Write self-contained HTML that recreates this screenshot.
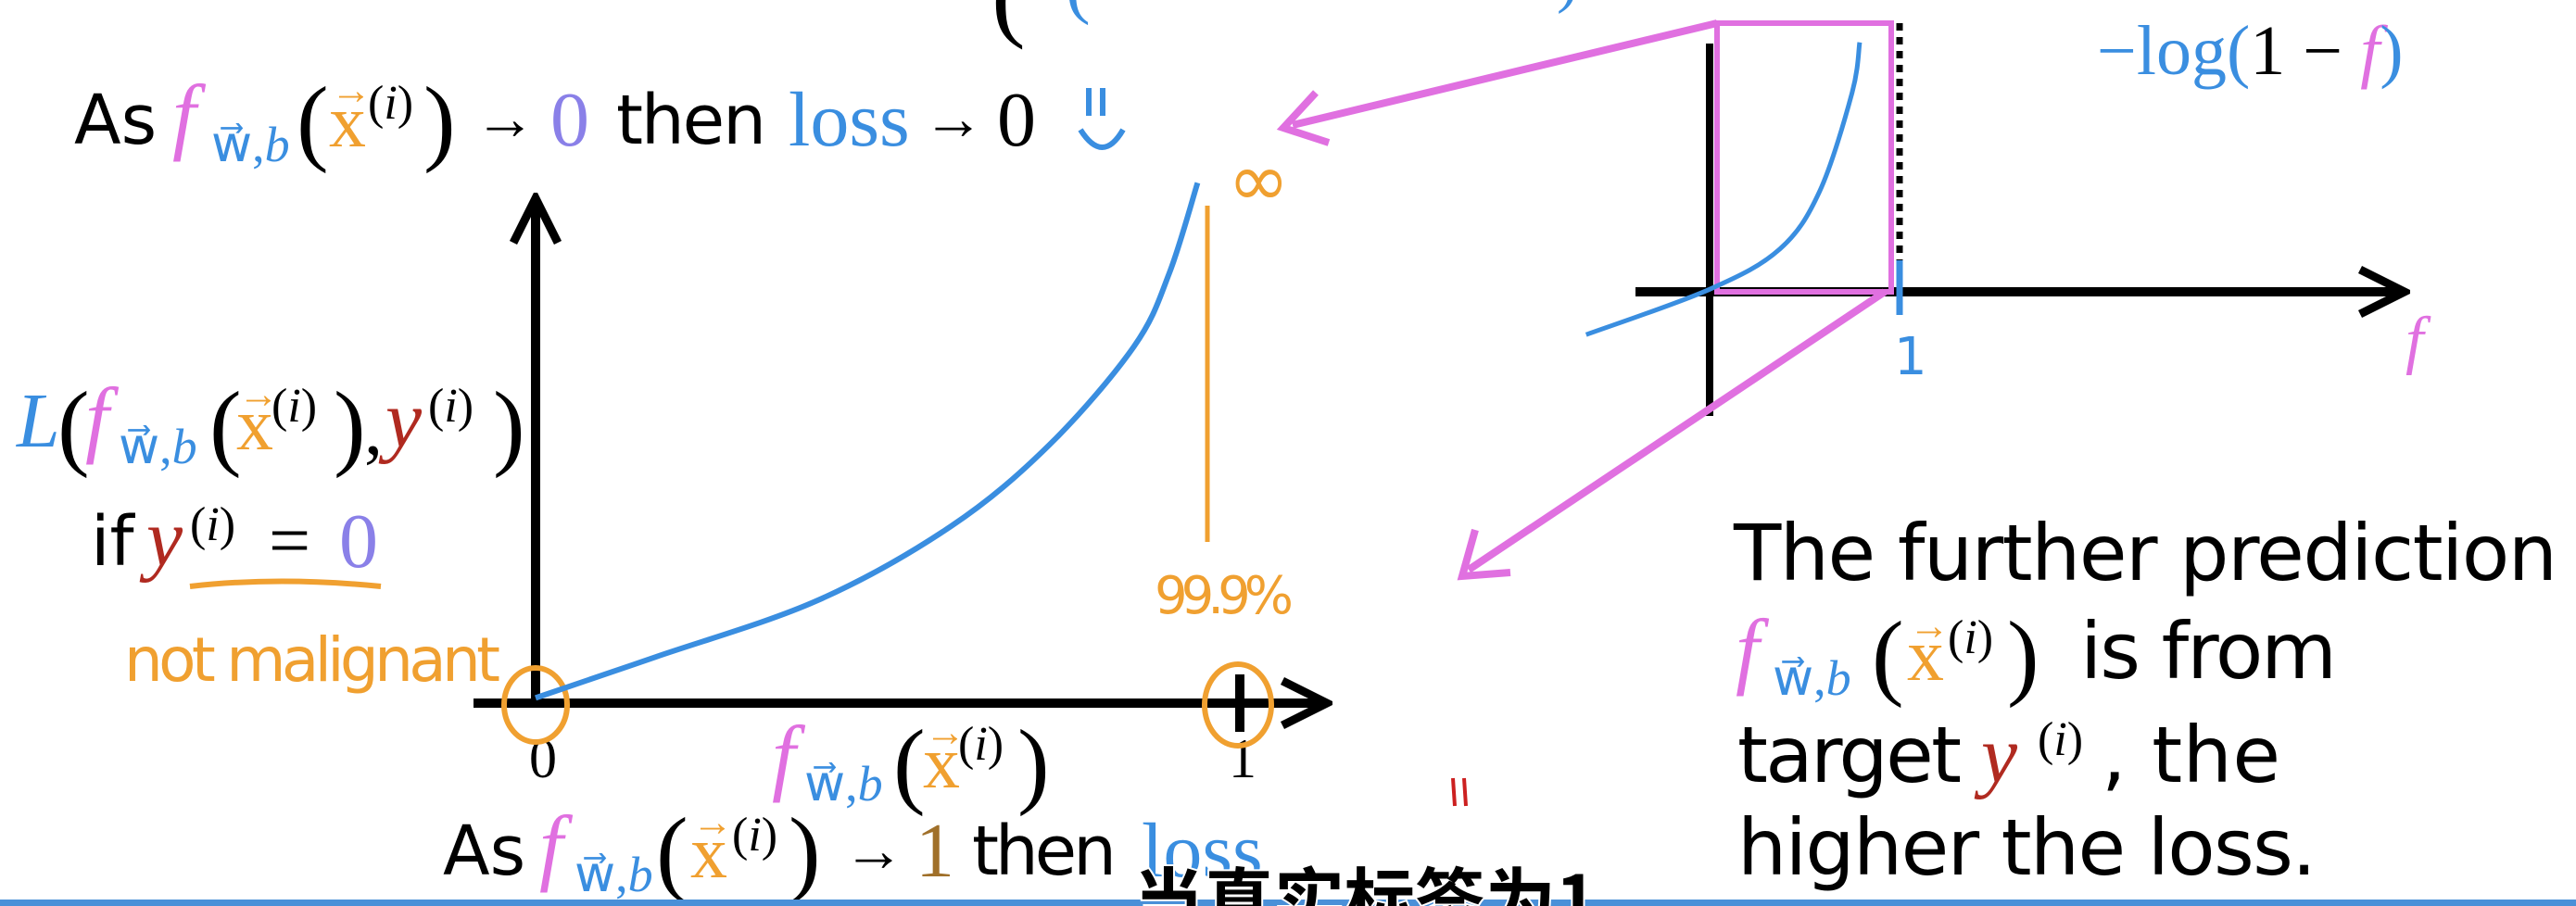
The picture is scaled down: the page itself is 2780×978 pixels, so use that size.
<!DOCTYPE html>
<html><head><meta charset="utf-8"><style>
html,body{margin:0;padding:0;background:#fff;}
svg{display:block;}
.sans{font-family:"DejaVu Sans","Liberation Sans",sans-serif;}
.ser{font-family:"Liberation Serif","DejaVu Serif",serif;}
</style></head><body>
<svg id="chart" width="2780" height="978" viewBox="0 0 2780 978" xmlns="http://www.w3.org/2000/svg">
<defs>
<marker id="ah" viewBox="0 0 20 20" refX="18" refY="10" markerWidth="6" markerHeight="6" orient="auto"><path d="M2,2 L18,10 L2,18" fill="none" stroke="#000" stroke-width="3"/></marker>
</defs>

<g>
<text x="1070" y="30" class="ser" font-size="110" fill="#000">(</text>
<text x="1150" y="10" class="ser" font-size="80" fill="#3a8ee0">(</text>
<text x="1680" y="0" class="ser" font-size="70" fill="#3a8ee0">)</text>
</g>

<g>
<text x="80" y="155" class="sans" font-size="74" fill="#000">As</text>
<text x="186" y="155" class="ser" font-style="italic" font-size="92" fill="#e070e0">f</text>
<text x="228" y="174" class="ser" font-size="54" fill="#3a8ee0">w⃗,<tspan font-style="italic">b</tspan></text>
<text x="320" y="165" class="ser" font-size="104" fill="#000">(</text>
<text x="355" y="158" class="ser" font-size="80" fill="#f0a030">x</text>
<text x="357" y="112" class="ser" font-size="44" fill="#f0a030">→</text>
<text x="397" y="128" class="ser" font-size="52" fill="#000">(<tspan font-style="italic">i</tspan>)</text>
<text x="457" y="165" class="ser" font-size="104" fill="#000">)</text>
<text x="512" y="150" class="ser" font-size="66" fill="#000">→</text>
<text x="594" y="157" class="ser" font-size="84" fill="#8a80e8">0</text>
<text x="665" y="155" class="sans" font-size="74" fill="#000" textLength="162">then</text>
<text x="851" y="157" class="ser" font-size="84" fill="#3a8ee0">loss</text>
<text x="996" y="150" class="ser" font-size="66" fill="#000">→</text>
<text x="1076" y="157" class="ser" font-size="84" fill="#000">0</text>
<path d="M1175,95 L1175,125 M1190,95 L1190,125 M1166,140 Q1190,178 1212,140" fill="none" stroke="#3a8ee0" stroke-width="6"/>
</g>

<line x1="578" y1="759" x2="578" y2="214" stroke="#000" stroke-width="10" marker-end="url(#ah)"/>
<line x1="511" y1="759" x2="1432" y2="759" stroke="#000" stroke-width="10" marker-end="url(#ah)"/>
<line x1="1338" y1="728" x2="1338" y2="790" stroke="#000" stroke-width="10"/>
<text x="571" y="839" class="ser" font-size="60" fill="#000">0</text>
<text x="1326" y="839" class="ser" font-size="60" fill="#000">1</text>
<ellipse cx="578" cy="761" rx="34" ry="40" fill="none" stroke="#f0a030" stroke-width="6"/>
<ellipse cx="1336" cy="761" rx="36" ry="44" fill="none" stroke="#f0a030" stroke-width="6"/>
<line x1="1303" y1="222" x2="1303" y2="585" stroke="#f0a030" stroke-width="5"/>
<text x="1325" y="222" class="sans" font-size="80" fill="#f0a030">∞</text>
<text x="1246" y="662" class="sans" font-size="56" fill="#f0a030" textLength="150">99.9%</text>

<g>
<text x="18" y="482" class="ser" font-style="italic" font-size="84" fill="#3a8ee0">L</text>
<text x="62" y="494" class="ser" font-size="104" fill="#000">(</text>
<text x="92" y="482" class="ser" font-style="italic" font-size="92" fill="#e070e0">f</text>
<text x="128" y="500" class="ser" font-size="54" fill="#3a8ee0">w⃗,<tspan font-style="italic">b</tspan></text>
<text x="226" y="494" class="ser" font-size="104" fill="#000">(</text>
<text x="255" y="485" class="ser" font-size="80" fill="#f0a030">x</text>
<text x="257" y="440" class="ser" font-size="44" fill="#f0a030">→</text>
<text x="293" y="455" class="ser" font-size="52" fill="#000">(<tspan font-style="italic">i</tspan>)</text>
<text x="360" y="494" class="ser" font-size="104" fill="#000">)</text>
<text x="393" y="490" class="ser" font-size="80" fill="#000">,</text>
<text x="416" y="482" class="ser" font-style="italic" font-size="88" fill="#b02a20">y</text>
<text x="462" y="455" class="ser" font-size="52" fill="#000">(<tspan font-style="italic">i</tspan>)</text>
<text x="532" y="494" class="ser" font-size="104" fill="#000">)</text>
</g>
<g>
<text x="98" y="610" class="sans" font-size="74" fill="#000">if</text>
<text x="158" y="610" class="ser" font-style="italic" font-size="88" fill="#b02a20">y</text>
<text x="205" y="583" class="ser" font-size="52" fill="#000">(<tspan font-style="italic">i</tspan>)</text>
<text x="290" y="610" class="ser" font-size="80" fill="#000">=</text>
<text x="366" y="612" class="ser" font-size="84" fill="#8a80e8">0</text>
<path d="M205,633 Q300,622 411,633" fill="none" stroke="#f0a030" stroke-width="6"/>
</g>
<text x="134" y="735" class="sans" font-size="66" fill="#f0a030" textLength="406">not malignant</text>

<g>
<text x="833" y="847" class="ser" font-style="italic" font-size="92" fill="#e070e0">f</text>
<text x="868" y="864" class="ser" font-size="54" fill="#3a8ee0">w⃗,<tspan font-style="italic">b</tspan></text>
<text x="964" y="859" class="ser" font-size="104" fill="#000">(</text>
<text x="996" y="850" class="ser" font-size="80" fill="#f0a030">x</text>
<text x="998" y="805" class="ser" font-size="44" fill="#f0a030">→</text>
<text x="1034" y="820" class="ser" font-size="52" fill="#000">(<tspan font-style="italic">i</tspan>)</text>
<text x="1098" y="859" class="ser" font-size="104" fill="#000">)</text>
</g>

<g>
<text x="478" y="944" class="sans" font-size="74" fill="#000">As</text>
<text x="582" y="944" class="ser" font-style="italic" font-size="92" fill="#e070e0">f</text>
<text x="620" y="962" class="ser" font-size="54" fill="#3a8ee0">w⃗,<tspan font-style="italic">b</tspan></text>
<text x="708" y="954" class="ser" font-size="104" fill="#000">(</text>
<text x="745" y="947" class="ser" font-size="80" fill="#f0a030">x</text>
<text x="747" y="902" class="ser" font-size="44" fill="#f0a030">→</text>
<text x="790" y="918" class="ser" font-size="52" fill="#000">(<tspan font-style="italic">i</tspan>)</text>
<text x="851" y="954" class="ser" font-size="104" fill="#000">)</text>
<text x="910" y="940" class="ser" font-size="66" fill="#000">→</text>
<text x="988" y="946" class="ser" font-size="84" fill="#a0702a">1</text>
<text x="1049" y="944" class="sans" font-size="74" fill="#000" textLength="156">then</text>
<text x="1232" y="946" class="ser" font-size="84" fill="#3a8ee0">loss</text>
<path d="M1568,840 L1570,870 M1580,840 L1582,870" stroke="#cc2020" stroke-width="4"/>
</g>

<line x1="1765" y1="315" x2="2595" y2="315" stroke="#000" stroke-width="10" marker-end="url(#ah)"/>
<line x1="1845" y1="47" x2="1845" y2="449" stroke="#000" stroke-width="8"/>
<line x1="2050" y1="25" x2="2050" y2="315" stroke="#000" stroke-width="7" stroke-dasharray="8,7"/>
<rect x="1853" y="25" width="188" height="290" fill="none" stroke="#e070e0" stroke-width="6"/>
<line x1="2050" y1="281" x2="2050" y2="340" stroke="#3a8ee0" stroke-width="7"/>
<text x="2044" y="404" class="sans" font-size="56" fill="#3a8ee0">1</text>
<text x="2596" y="390" class="ser" font-style="italic" font-size="70" fill="#e070e0">f</text>
<text x="2263" y="80" class="ser" font-size="76" fill="#3a8ee0">−log(<tspan fill="#000">1 − </tspan><tspan fill="#e070e0" font-style="italic">f</tspan>)</text>
<line x1="1853" y1="25" x2="1395" y2="135" stroke="#e070e0" stroke-width="8"/>
<path d="M1420,100 L1385,138 L1434,154" fill="none" stroke="#e070e0" stroke-width="8"/>
<line x1="2034" y1="315" x2="1585" y2="615" stroke="#e070e0" stroke-width="8"/>
<path d="M1592,572 L1578,622 L1630,618" fill="none" stroke="#e070e0" stroke-width="8"/>

<g>
<text x="1871" y="626" class="sans" font-size="84" fill="#000" textLength="889">The further prediction</text>
<text x="1873" y="732" class="ser" font-style="italic" font-size="92" fill="#e070e0">f</text>
<text x="1913" y="750" class="ser" font-size="54" fill="#3a8ee0">w⃗,<tspan font-style="italic">b</tspan></text>
<text x="2020" y="742" class="ser" font-size="104" fill="#000">(</text>
<text x="2058" y="734" class="ser" font-size="80" fill="#f0a030">x</text>
<text x="2060" y="690" class="ser" font-size="44" fill="#f0a030">→</text>
<text x="2102" y="705" class="ser" font-size="52" fill="#000">(<tspan font-style="italic">i</tspan>)</text>
<text x="2166" y="742" class="ser" font-size="104" fill="#000">)</text>
<text x="2245" y="732" class="sans" font-size="84" fill="#000" textLength="277">is from</text>
<text x="1875" y="844" class="sans" font-size="84" fill="#000" textLength="242">target</text>
<text x="2138" y="844" class="ser" font-style="italic" font-size="88" fill="#b02a20">y</text>
<text x="2199" y="815" class="ser" font-size="52" fill="#000">(<tspan font-style="italic">i</tspan>)</text>
<text x="2268" y="844" class="sans" font-size="84" fill="#000" textLength="193">, the</text>
<text x="1875" y="944" class="sans" font-size="84" fill="#000" textLength="625">higher the loss.</text>
</g>

<rect x="0" y="971" width="2780" height="7" fill="#4a90d8"/>
<text x="1223" y="1000" font-family="'Noto Sans CJK SC','WenQuanYi Zen Hei',sans-serif" font-size="76" font-weight="bold" fill="#000" stroke="#fff" stroke-width="4" paint-order="stroke">当真实标签为1</text>

<g id="curves"></g>
</svg>
<script>
const fValues = [0, 0.17, 0.40, 0.59, 0.73, 0.85, 0.90, 0.94];
const lossValues = [0.05, 0.44, 0.98, 1.69, 2.47, 3.41, 4.11, 4.97];
const miniF = [-0.65, 0, 0.37, 0.58, 0.75, 0.79];
const miniLoss = [-0.17, 0.01, 0.17, 0.40, 0.79, 0.99];

const xScale = f => 578 + f * (1338 - 578);
const yScale = v => 759 - v * 113;
const mxScale = f => 1845 + f * (2050 - 1845);
const myScale = v => 315 - v * 272;

function smoothPath(pts){
  let d = 'M' + pts[0][0] + ',' + pts[0][1];
  for (let i = 0; i < pts.length - 1; i++){
    const p0 = pts[i-1] || pts[i], p1 = pts[i], p2 = pts[i+1], p3 = pts[i+2] || p2;
    const c1 = [p1[0] + (p2[0]-p0[0])/6, p1[1] + (p2[1]-p0[1])/6];
    const c2 = [p2[0] - (p3[0]-p1[0])/6, p2[1] - (p3[1]-p1[1])/6];
    d += ' C' + c1.join(',') + ' ' + c2.join(',') + ' ' + p2.join(',');
  }
  return d;
}
const g = document.getElementById('curves');
const ns = 'http://www.w3.org/2000/svg';
const main = document.createElementNS(ns, 'path');


main.setAttribute('d', smoothPath(fValues.map((f,i) => [xScale(f), yScale(lossValues[i])])));
main.setAttribute('fill', 'none');
main.setAttribute('stroke', '#3a8ee0');
main.setAttribute('stroke-width', '6');
g.appendChild(main);
const mini = document.createElementNS(ns, 'path');


mini.setAttribute('d', smoothPath(miniF.map((f,i) => [mxScale(f), myScale(miniLoss[i])])));
mini.setAttribute('fill', 'none');
mini.setAttribute('stroke', '#3a8ee0');
mini.setAttribute('stroke-width', '5');
g.appendChild(mini);
</script>
</body></html>
